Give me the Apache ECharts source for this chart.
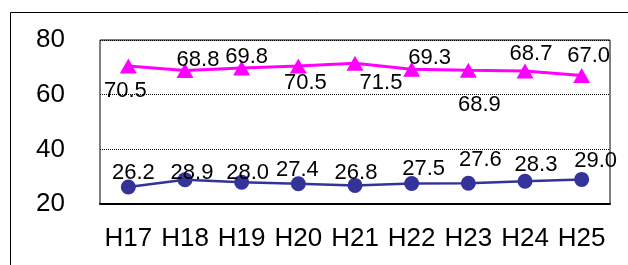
<!DOCTYPE html>
<html lang="ja">
<head>
    <meta charset="UTF-8">
    <title>chart</title>
    <script src="https://cdnjs.cloudflare.com/ajax/libs/echarts/6.0.0/echarts.min.js"></script>
    <style>
        body { margin: 0; background: #fff; }
        #main { width: 628px; height: 265px; }
    </style>
</head>
<body>
    <div id="main"></div>
    <script>
        // data
        const years = ['H17', 'H18', 'H19', 'H20', 'H21', 'H22', 'H23', 'H24', 'H25'];
        const upper = [70.5, 68.8, 69.8, 70.5, 71.5, 69.3, 68.9, 68.7, 67.0];
        const lower = [26.2, 28.9, 28.0, 27.4, 26.8, 27.5, 27.6, 28.3, 29.0];
        const yTicks = [20, 40, 60, 80];

        // label offsets from the marker centre
        const upperOffsets = [[-3, 25], [13, -11], [5, -11], [7, 17], [26, 20], [18, -11], [11, 35], [6, -17], [7, -20]];
        const lowerOffsets = [[5, -14], [7, -7], [6, -9], [-1, -14], [1, -12], [12, -15], [12, -23], [11, -16], [14, -18]];

        const chart = echarts.init(document.getElementById('main'));

        function withLabels(values, offsets) {
            return values.map((v, i) => ({
                value: v,
                label: { offset: offsets[i] }
            }));
        }

        const labelStyle = {
            show: true,
            position: 'inside',
            color: '#000',
            fontSize: 22,
            fontFamily: 'Liberation Sans',
            formatter: (p) => p.value.toFixed(1)
        };

        const option = {
            animation: false,
            graphic: [{
                type: 'rect',
                left: 8,
                top: 10,
                shape: { width: 700, height: 400 },
                style: { fill: 'none', stroke: '#000', lineWidth: 1 },
                z: -1
            }],
            grid: {
                left: 100, right: 18, top: 40, bottom: 61,
                show: true, borderColor: '#000', borderWidth: 1
            },
            xAxis: {
                type: 'category',
                data: years,
                boundaryGap: true,
                axisLine: { lineStyle: { color: '#000', width: 2 } },
                axisTick: { inside: true, length: 6, lineStyle: { color: '#000' } },
                axisLabel: {
                    color: '#000', fontSize: 26, fontFamily: 'Liberation Sans',
                    margin: 22, interval: 0, hideOverlap: false
                }
            },
            yAxis: {
                type: 'value',
                min: yTicks[0],
                max: yTicks[yTicks.length - 1],
                interval: 20,
                axisLine: { show: false },
                axisTick: { show: false },
                axisLabel: { color: '#000', fontSize: 26, fontFamily: 'Liberation Sans', margin: 35 },
                splitLine: { lineStyle: { color: '#000', type: 'dotted', width: 1 } }
            },
            series: [
                {
                    type: 'line',
                    data: withLabels(upper, upperOffsets),
                    symbol: 'triangle',
                    symbolSize: [17, 15],
                    lineStyle: { color: '#FF00FF', width: 3 },
                    itemStyle: { color: '#FF00FF' },
                    label: labelStyle
                },
                {
                    type: 'line',
                    data: withLabels(lower, lowerOffsets),
                    symbol: 'circle',
                    symbolSize: 15,
                    lineStyle: { color: '#333399', width: 2.5 },
                    itemStyle: { color: '#333399' },
                    label: labelStyle
                }
            ]
        };

        chart.setOption(option);
    </script>
</body>
</html>
